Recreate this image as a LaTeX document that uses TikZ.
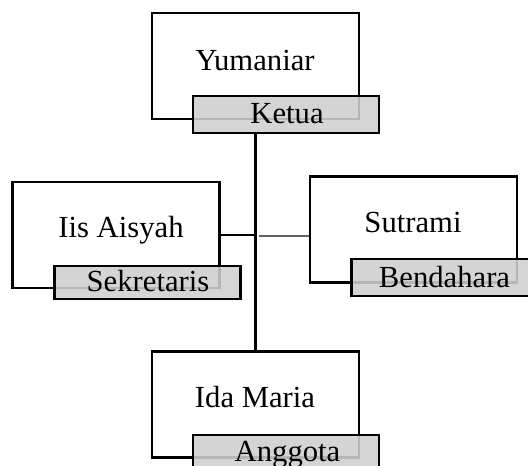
\documentclass[tikz,border=0pt]{standalone}
\usepackage{fontspec}
\setmainfont{Liberation Serif}
\begin{document}
\begin{tikzpicture}[x=0.75pt,y=-0.75pt,
  namebox/.style={draw=black,line width=1.9pt,fill=white,rectangle,inner sep=0pt,
    minimum width=155.25pt,minimum height=79.5pt},
  rolebox/.style={draw=black,line width=1.9pt,fill=black!19,fill opacity=0.88,draw opacity=1,
    text opacity=1,rectangle,inner sep=0pt,minimum width=139.5pt,minimum height=27.75pt},
  txt/.style={anchor=base,inner sep=0pt,font=\fontsize{23}{28}\selectfont},
  mainline/.style={line width=2pt,draw=black},
  thinline/.style={line width=1pt,draw=black!62}]
\useasboundingbox (0,0) rectangle (528,466);
% boxes
\node[namebox] (yum) at (255.5,66) {};
\node[rolebox] (ketua) at (286,114.5) {};
\node[namebox] (iis) at (116,235) {};
\node[rolebox,minimum height=24.75pt] (sek) at (147.5,282.5) {};
\node[namebox] (sut) at (413.5,229.5) {};
\node[rolebox] (ben) at (444.5,277.5) {};
\node[namebox] (ida) at (255.5,404.5) {};
\node[rolebox] (ang) at (286,453.5) {};
% texts
\node[txt] (tyum) at (255,71) {Yumaniar};
\node[txt] (tket) at (287,124) {Ketua};
\node[txt] (tiis) at (121,238) {Iis Aisyah};
\node[txt] (tsek) at (148,292) {Sekretaris};
\node[txt] (tsut) at (413,233) {Sutrami};
\node[txt] (tben) at (444.5,288) {Bendahara};
\node[txt] (tida) at (255,407) {Ida Maria};
\node[txt] (tang) at (287.5,461) {Anggota};
% connectors
\coordinate (top) at (255.5,133);
\coordinate (bot) at (255.5,352);
\coordinate (j) at (255.5,235);
\coordinate (t0) at (259,236);
\draw[mainline] (top) -- (bot);
\draw[mainline] (iis.east) -- (j);
\draw[thinline] (t0) -- (sut.west |- t0);
\end{tikzpicture}
\end{document}
